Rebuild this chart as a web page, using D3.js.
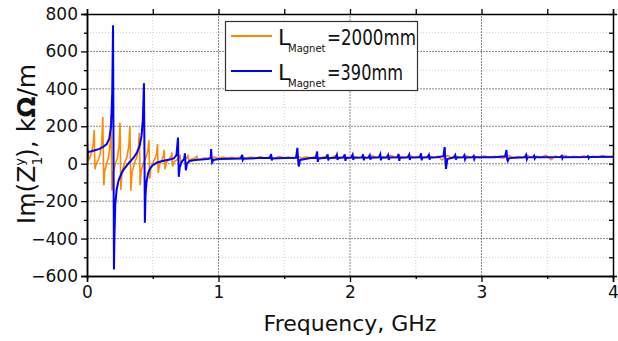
<!DOCTYPE html>
<html>
<head>
<meta charset="utf-8">
<script src="https://cdn.jsdelivr.net/npm/d3@7"></script>
<style>
  body { margin: 0; background: #fff; }
  text { font-family: "DejaVu Sans", sans-serif; fill: #111; }
</style>
</head>
<body>
<div id="chart"></div>
<script>
// series: L_Magnet = 2000mm (orange)
const freqLong = [0.000, 0.004, 0.008, 0.012, 0.020, 0.035, 0.048, 0.055, 0.058, 0.061, 0.068, 0.085, 0.100, 0.112, 0.120, 0.124, 0.128, 0.135, 0.150, 0.165, 0.176, 0.182, 0.186, 0.190, 0.198, 0.215, 0.232, 0.244, 0.251, 0.254, 0.257, 0.266, 0.285, 0.305, 0.318, 0.326, 0.330, 0.333, 0.342, 0.360, 0.378, 0.390, 0.398, 0.401, 0.404, 0.413, 0.430, 0.450, 0.463, 0.471, 0.474, 0.477, 0.486, 0.505, 0.522, 0.530, 0.536, 0.539, 0.542, 0.552, 0.570, 0.582, 0.587, 0.590, 0.593, 0.603, 0.625, 0.640, 0.645, 0.648, 0.651, 0.662, 0.690, 0.703, 0.708, 0.711, 0.714, 0.726, 0.755, 0.768, 0.772, 0.785, 0.820, 0.835, 0.840,
  0.86, 0.90, 0.93, 0.97, 1.00, 1.03, 1.07, 1.10, 1.14, 1.17, 1.21, 1.25, 1.28, 1.32, 1.35, 1.39, 1.43, 1.46, 1.50, 1.53, 1.57, 1.60, 1.63, 1.67, 1.70, 1.74, 1.77, 1.81, 1.85, 1.88, 1.92, 1.95, 1.99, 2.02, 2.06, 2.10, 2.13, 2.17, 2.20, 2.24, 2.27, 2.31, 2.35, 2.38, 2.42, 2.45, 2.49, 2.52, 2.56, 2.60, 2.63, 2.67, 2.70, 2.74, 2.77, 2.81, 2.85, 2.88, 2.92, 2.95, 2.99, 3.02, 3.06, 3.10, 3.13, 3.17, 3.20, 3.24, 3.28, 3.31, 3.35, 3.38, 3.42, 3.45, 3.49, 3.53, 3.56, 3.60, 3.63, 3.67, 3.70, 3.74, 3.78, 3.81, 3.85, 3.88, 3.92, 3.96, 4.00];
const imLong = [90, 112, 60, 20, 30, 60, 110, 180, 40, -30, -5, 20, 50, 110, 250, 60, -115, -40, 0, 40, 110, 260, 60, -145, -50, -5, 35, 100, 220, 50, -140, -45, 0, 40, 95, 200, 40, -145, -45, 0, 35, 80, 165, 30, -115, -35, 5, 35, 70, 125, 20, -80, -20, 10, 35, 60, 105, 20, -50, -5, 20, 45, 75, 10, -30, 5, 25, 40, 60, 10, -15, 10, 25, 35, 48, 15, 2, 18, 28, 42, 20, 22, 30, 40, 22,
  25, 32, 28, 35, 28, 36, 30, 34, 29, 37, 30, 35, 30, 38, 31, 36, 30, 40, 32, 36, 28, 42, 30, 37, 31, 40, 30, 38, 30, 41, 32, 38, 30, 42, 32, 38, 31, 43, 32, 38, 30, 44, 33, 39, 31, 44, 33, 40, 32, 45, 33, 39, 20, 44, 33, 40, 32, 43, 34, 39, 31, 42, 34, 40, 33, 30, 45, 34, 38, 33, 44, 34, 40, 33, 45, 22, 40, 34, 44, 35, 39, 34, 42, 35, 40, 34, 43, 35, 38];

// series: L_Magnet = 390mm (blue)
const freqShort = [0.000, 0.004, 0.012, 0.03, 0.06, 0.09, 0.12, 0.15, 0.17, 0.183, 0.192, 0.198, 0.201, 0.205, 0.209, 0.215, 0.225, 0.24, 0.26, 0.28, 0.30, 0.32, 0.34, 0.36, 0.38, 0.40, 0.415, 0.425, 0.433, 0.437, 0.440, 0.445, 0.452, 0.465, 0.48, 0.50, 0.53, 0.56, 0.60, 0.63, 0.66, 0.68, 0.692, 0.695, 0.698, 0.705, 0.72, 0.738, 0.745, 0.748, 0.752, 0.76, 0.78, 0.82, 0.87, 0.92, 0.94, 0.944, 0.948, 0.952, 0.96, 1.0, 1.1, 1.17, 1.18, 1.185, 1.19, 1.3, 1.39, 1.40, 1.405, 1.41, 1.5, 1.59, 1.60, 1.605, 1.61, 1.62, 1.7, 1.74, 1.75, 1.755, 1.76, 1.82, 1.83, 1.835, 1.84, 1.89, 1.9, 1.905, 1.91, 1.95, 1.96, 1.965, 1.97, 2.01, 2.02, 2.025, 2.03, 2.09, 2.1, 2.105, 2.11, 2.14, 2.15, 2.155, 2.16, 2.22, 2.23, 2.235, 2.24, 2.28, 2.29, 2.295, 2.3, 2.36, 2.37, 2.375, 2.38, 2.44, 2.45, 2.455, 2.46, 2.53, 2.54, 2.545, 2.55, 2.59, 2.6, 2.605, 2.61, 2.66, 2.71, 2.72, 2.725, 2.73, 2.74, 2.79, 2.8, 2.805, 2.81, 2.86, 2.87, 2.875, 2.88, 2.93, 2.94, 2.945, 2.95, 3.1, 3.18, 3.19, 3.195, 3.2, 3.21, 3.33, 3.34, 3.345, 3.35, 3.39, 3.40, 3.405, 3.41, 3.6, 3.61, 3.615, 3.62, 3.8, 3.81, 3.815, 3.82, 4.0];
const imShort = [0, 70, 62, 66, 72, 78, 88, 105, 135, 200, 380, 740, 200, -565, -380, -220, -140, -90, -55, -30, -12, 5, 20, 38, 60, 95, 150, 240, 430, 50, -315, -170, -100, -50, -25, -8, 5, 12, 18, 22, 28, 45, 140, 30, -70, -20, 10, 25, 55, 10, -35, 0, 15, 20, 22, 25, 30, 78, 30, 8, 20, 25, 27, 28, 48, 20, 27, 30, 30, 52, 18, 28, 31, 32, 85, 20, -15, 20, 30, 31, 65, 10, 28, 32, 50, 18, 30, 32, 48, 20, 31, 33, 50, 15, 31, 33, 48, 20, 32, 33, 50, 18, 32, 33, 45, 22, 32, 34, 50, 18, 32, 34, 46, 20, 33, 34, 52, 15, 32, 34, 48, 20, 33, 34, 55, 18, 33, 34, 47, 22, 33, 34, 40, 89, 20, -28, 25, 34, 46, 22, 33, 34, 45, 24, 33, 34, 42, 25, 34, 35, 40, 73, 25, 15, 30, 35, 48, 25, 34, 35, 43, 28, 34, 36, 42, 28, 35, 36, 40, 30, 36, 37];

const xTicks = [0, 1, 2, 3, 4];
const yTicks = [-600, -400, -200, 0, 200, 400, 600, 800];

const width = 618, height = 341;
const margin = { left: 87, right: 5, top: 14, bottom: 65 };
const pw = width - margin.left - margin.right;
const ph = height - margin.top - margin.bottom;

const svg = d3.select('#chart').append('svg')
  .attr('width', width)
  .attr('height', height)
  .style('background', '#fff');

const x = d3.scaleLinear().domain([0, 4]).range([margin.left, margin.left + pw]);
const y = d3.scaleLinear().domain([-600, 800]).range([margin.top + ph, margin.top]);

// grid
const grid = svg.append('g');
const yMinor = d3.range(-500, 800, 200);
const xMinor = d3.range(0.5, 4, 1);
grid.selectAll('.gy').data(yTicks.slice(1, -1)).enter().append('line')
  .attr('x1', x(0)).attr('x2', x(4))
  .attr('y1', d => y(d)).attr('y2', d => y(d))
  .attr('stroke', '#8a8a8a').attr('stroke-width', 1).attr('stroke-dasharray', '2,1');
grid.selectAll('.gym').data(yMinor).enter().append('line')
  .attr('x1', x(0)).attr('x2', x(4))
  .attr('y1', d => y(d)).attr('y2', d => y(d))
  .attr('stroke', '#cfcfcf').attr('stroke-width', 1).attr('stroke-dasharray', '1,2');
grid.selectAll('.gx').data(xTicks.slice(1, -1)).enter().append('line')
  .attr('y1', y(-600)).attr('y2', y(800))
  .attr('x1', d => x(d)).attr('x2', d => x(d))
  .attr('stroke', '#8a8a8a').attr('stroke-width', 1).attr('stroke-dasharray', '2,1');
grid.selectAll('.gxm').data(xMinor).enter().append('line')
  .attr('y1', y(-600)).attr('y2', y(800))
  .attr('x1', d => x(d)).attr('x2', d => x(d))
  .attr('stroke', '#cfcfcf').attr('stroke-width', 1).attr('stroke-dasharray', '1,2');

// lines
svg.append('clipPath').attr('id', 'clip').append('rect')
  .attr('x', margin.left).attr('y', margin.top).attr('width', pw).attr('height', ph);

const line = d3.line().x(d => x(d[0])).y(d => y(d[1]));

svg.append('path')
  .datum(d3.zip(freqLong, imLong))
  .attr('clip-path', 'url(#clip)')
  .attr('fill', 'none')
  .attr('stroke', '#ff8a00')
  .attr('stroke-width', 1.6)
  .attr('d', line);

svg.append('path')
  .datum(d3.zip(freqShort, imShort))
  .attr('clip-path', 'url(#clip)')
  .attr('fill', 'none')
  .attr('stroke', '#0000ff')
  .attr('stroke-width', 2)
  .attr('d', line);

// axes
const axisStyle = g => {
  g.selectAll('.domain').attr('stroke', '#000').attr('stroke-width', 1.5);
  g.selectAll('line').attr('stroke', '#000').attr('stroke-width', 1.3);
  g.selectAll('text').style('font-family', '"DejaVu Sans", sans-serif').style('font-size', '17px').attr('fill', '#111');
};

svg.append('g')
  .attr('transform', `translate(0,${y(-600)})`)
  .call(d3.axisBottom(x).tickValues(xTicks).tickFormat(d3.format('d')).tickSize(6).tickPadding(4))
  .call(axisStyle);
svg.append('g')
  .attr('transform', `translate(0,${y(-600)})`)
  .call(d3.axisBottom(x).tickValues(xMinor).tickFormat('').tickSize(3))
  .call(axisStyle);

svg.append('g')
  .attr('transform', `translate(${x(0)},0)`)
  .call(d3.axisLeft(y).tickValues(yTicks).tickSize(6).tickPadding(3))
  .call(axisStyle);
svg.append('g')
  .attr('transform', `translate(${x(0)},0)`)
  .call(d3.axisLeft(y).tickValues(yMinor).tickFormat('').tickSize(3))
  .call(axisStyle);

svg.append('g')
  .attr('transform', `translate(0,${y(800)})`)
  .call(d3.axisTop(x).tickValues(d3.range(0, 4.01, 0.5)).tickFormat('').tickSize(5))
  .call(axisStyle);
svg.append('g')
  .attr('transform', `translate(${x(4)},0)`)
  .call(d3.axisLeft(y).tickValues(d3.range(-600, 801, 100)).tickFormat('').tickSize(-4))
  .call(g => { axisStyle(g); g.selectAll('line').attr('x2', -4); });

// axis titles
svg.append('text')
  .attr('x', x(2))
  .attr('y', 331)
  .attr('text-anchor', 'middle')
  .style('font-size', '22px')
  .text('Frequency, GHz');

const yt = svg.append('text')
  .attr('transform', `translate(35,144) rotate(-90)`)
  .attr('text-anchor', 'middle')
  .style('font-size', '25px');
yt.append('tspan').text('Im(Z');
yt.append('tspan').attr('dy', 7).style('font-size', '14px').text('1');
yt.append('tspan').attr('dx', -9).attr('dy', -18).style('font-size', '13px').text('y');
yt.append('tspan').attr('dy', 11).text('), k');
yt.append('tspan').style('font-weight', 'bold').text('Ω');
yt.append('tspan').text('/m');

// legend
const legendItems = [
  { color: '#ff8a00', value: '=2000mm' },
  { color: '#0000ff', value: '=390mm' }
];
const lg = svg.append('g');
lg.append('rect')
  .attr('x', 225.5).attr('y', 21.5).attr('width', 192).attr('height', 69)
  .attr('fill', '#fff').attr('stroke', '#333').attr('stroke-width', 1.2);
legendItems.forEach((it, i) => {
  const cy = 36 + i * 35;
  lg.append('line')
    .attr('x1', 231).attr('x2', 272).attr('y1', cy).attr('y2', cy)
    .attr('stroke', it.color).attr('stroke-width', 1.8);
  lg.append('text').attr('x', 278).attr('y', cy + 9).style('font-size', '22px').text('L');
  lg.append('text').attr('x', 288).attr('y', cy + 16)
    .style('font-size', '10px').text('Magnet');
  lg.append('text').attr('x', 327).attr('y', cy + 9)
    .attr('textLength', i === 0 ? 89 : 76).attr('lengthAdjust', 'spacingAndGlyphs')
    .style('font-size', '22px').text(it.value);
});
</script>
</body>
</html>
